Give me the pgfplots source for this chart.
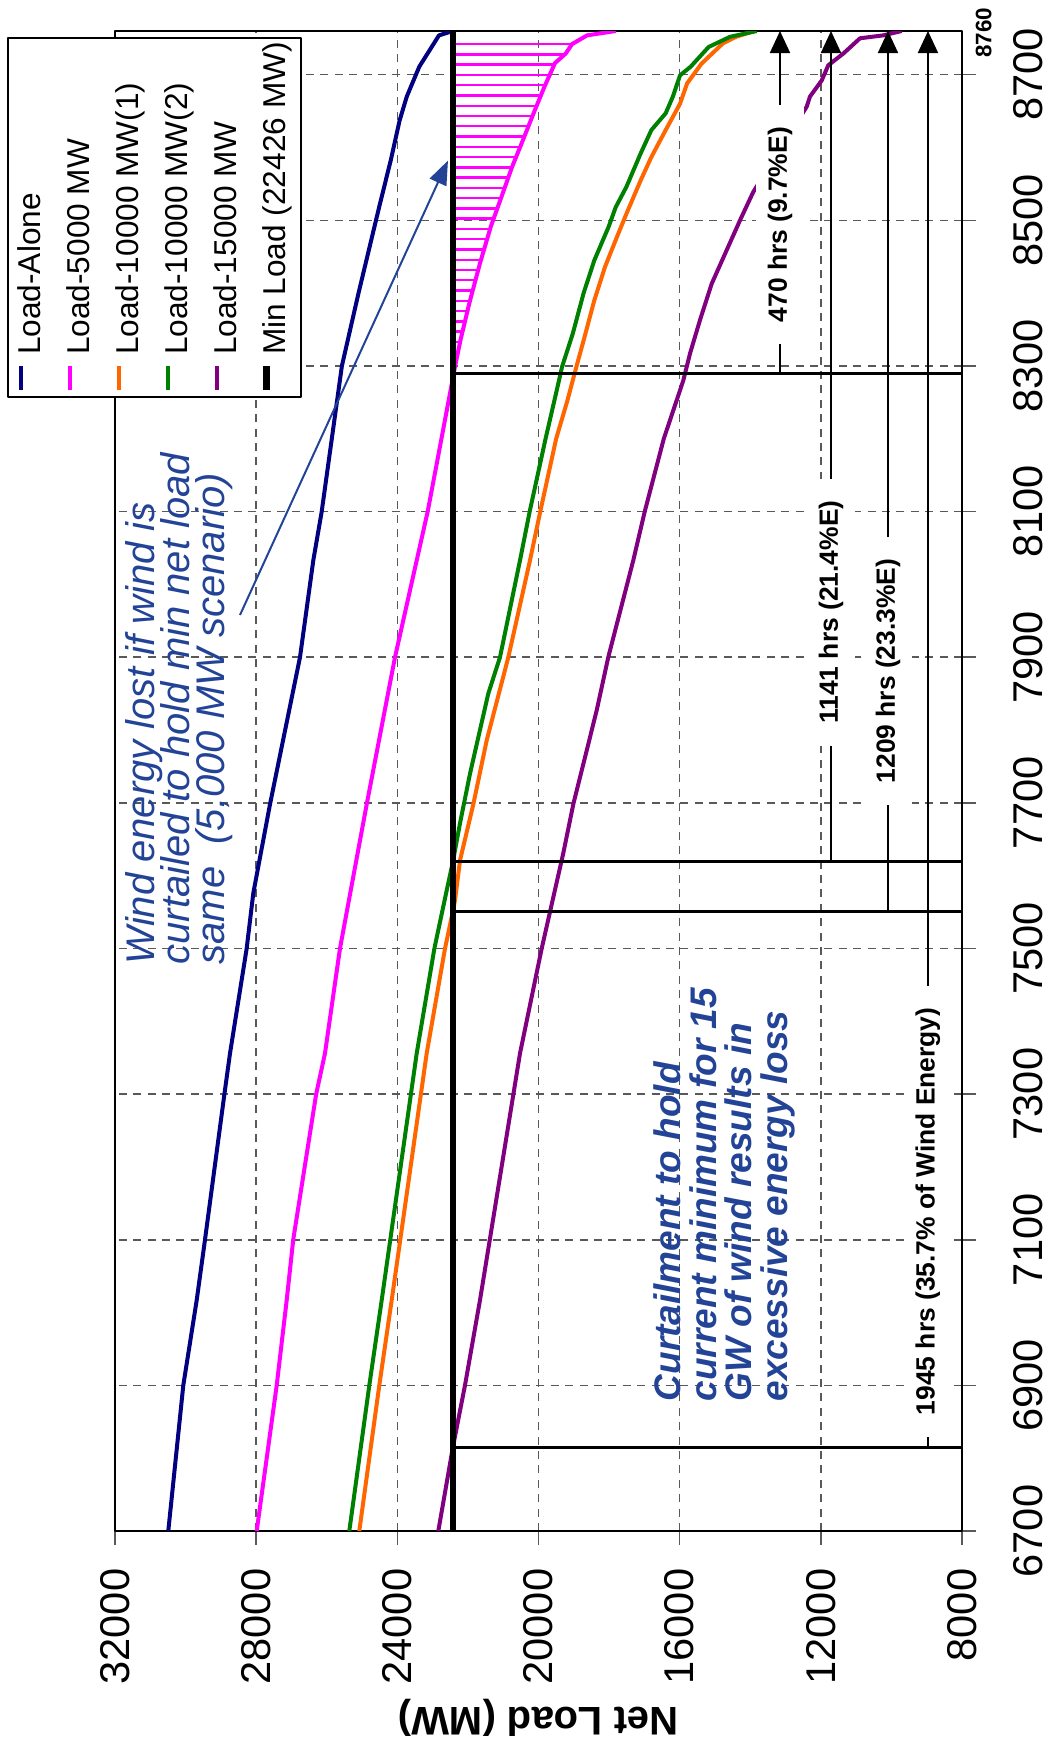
\documentclass[border=0pt]{standalone}
\usepackage{pgfplots}
\pgfplotsset{compat=1.18}
\usepackage{fontspec}
\setmainfont{Liberation Sans}
\usetikzlibrary{arrows.meta}
\definecolor{lnavy}{RGB}{0,0,128}
\definecolor{lmag}{RGB}{255,0,255}
\definecolor{lorange}{RGB}{255,102,0}
\definecolor{lgreen}{RGB}{0,128,0}
\definecolor{lpurple}{RGB}{128,0,128}
\definecolor{btxt}{RGB}{35,68,150}
\begin{document}
\begin{tikzpicture}
\begin{scope}[transform canvas={rotate=90}]
\begin{axis}[
  scale only axis, width=375pt, height=211.75pt,
  xmin=6700, xmax=8760, ymin=8000, ymax=32000,
  xtick={6700,6900,...,8700}, ytick={8000,12000,...,32000},
  tick pos=left, tick align=outside, major tick length=3.5pt,
  tick style={black!65, line width=0.4pt},
  grid=major, grid style={black!65, line width=0.4pt, dash pattern=on 2pt off 1.6pt},
  axis line style={black, line width=0.6pt},
  ticklabel style={font=\fontsize{10.4}{12}\selectfont, inner sep=0pt},
  xticklabel shift=9.25pt, yticklabel shift=5.75pt,
  /pgf/number format/1000 sep={},
  /pgf/number format/assume math mode=true,
  scaled ticks=false,
  ylabel={\textbf{Net Load (MW)}},
  ylabel style={font=\fontsize{10}{12}\selectfont, at={(axis description cs:-0.1113,0.5)}, anchor=south, inner sep=0pt},
  legend style={at={(axis description cs:0.7553,1.1275)}, anchor=north west, draw=black, fill=white,
    inner xsep=1pt, inner ysep=2.25pt, row sep=4.75pt,
    font=\fontsize{7.9}{9}\selectfont,
    nodes={inner sep=0pt, text height=5.9pt, text depth=1.6pt},
    /tikz/every odd column/.style={column sep=2pt}},
  legend cell align=left,
  legend image code/.code={\draw[#1] (0pt,2.6pt) -- (6pt,2.6pt);},
  line join=round,
]
% hatch between Min Load and Load-5000 curve
\addplot[draw=none, mark=none, forget plot, error bars/.cd, y dir=plus, y explicit, error mark=none,
  error bar style={lmag, line width=0.6pt}] table[x=h, y=L, y error=e] {
h L e
8304.9 22340 86
8319.0 22281 145
8333.1 22221 205
8347.2 22152 274
8361.3 22083 343
8375.4 22013 413
8389.5 21941 485
8403.6 21863 563
8417.7 21785 641
8431.8 21707 719
8445.9 21627 799
8460.0 21541 885
8474.1 21456 970
8488.2 21371 1055
8502.3 21270 1156
8516.4 21166 1260
8530.5 21062 1364
8544.6 20959 1467
8558.7 20856 1570
8572.8 20752 1674
8586.9 20635 1791
8601.0 20517 1909
8615.1 20400 2026
8629.2 20283 2143
8643.3 20167 2259
8657.4 20050 2376
8671.5 19932 2494
8685.6 19812 2614
8699.7 19680 2746
8713.8 19549 2877
8727.9 19254 3172
8742.0 19050 3376
};
\addplot[lnavy, line width=1pt] table {
6700 30490
6900 30065
7017 29685
7100 29450
7300 28900
7356 28741
7500 28269
7576 28081
7698 27608
7900 26758
8033 26381
8100 26143
8300 25571
8400 25100
8523 24491
8582 24188
8637 23936
8670 23732
8711 23378
8754 22820
8760 22426
};
\addlegendentry{Load-Alone}
\addplot[lmag, line width=1pt] table {
6700 27985
6900 27418
7017 27135
7100 26950
7300 26300
7356 26050
7500 25625
7698 24868
7900 24066
8033 23451
8100 23140
8200 22750
8299 22366
8335 22213
8386 21961
8441 21658
8491 21354
8532 21051
8573 20751
8610 20442
8647 20139
8683 19836
8716 19532
8729 19229
8742 19050
8754 18623
8760 17812
};
\addlegendentry{Load-5000 MW}
\addplot[lorange, line width=1pt] table {
6700 25078
6900 24511
7017 24160
7100 23917
7300 23332
7356 23168
7500 22649
7551 22426
7566 22366
7621 22224
7698 21847
7786 21467
7900 20855
8033 20241
8100 19950
8200 19500
8253 19178
8299 18926
8335 18722
8390 18419
8436 18116
8473 17812
8509 17509
8555 17104
8587 16801
8624 16396
8660 15991
8688 15789
8715 15384
8743 14775
8752 14400
8760 13880
};
\addlegendentry{Load-10000 MW(1)}
\addplot[lgreen, line width=1pt] table {
6700 25361
6900 24794
7017 24443
7100 24200
7300 23615
7356 23451
7500 22950
7580 22600
7619 22426
7672 22224
7740 21941
7850 21423
7900 21091
8033 20524
8100 20250
8200 19800
8267 19481
8299 19331
8345 19025
8400 18722
8445 18419
8491 18014
8518 17812
8546 17509
8592 17104
8624 16801
8647 16396
8670 16192
8699 15991
8711 15688
8738 15180
8752 14574
8760 13815
};
\addlegendentry{Load-10000 MW(2)}
\addplot[lpurple, line width=1pt] table {
6700 22839
6815 22426
6900 22083
7017 21658
7100 21380
7300 20711
7356 20524
7500 19909
7631 19297
7698 19014
7827 18351
7900 18023
8033 17314
8100 16990
8200 16450
8280 15897
8317 15707
8363 15424
8413 15092
8459 14668
8500 14290
8539 13914
8600 13125
8656 12401
8670 12307
8692 11976
8713 11788
8729 11363
8750 10890
8754 10230
8760 9709
};
\addlegendentry{Load-15000 MW}
\addplot[black, line width=1.6pt] coordinates {(6700,22426) (8760,22426)};
\addlegendentry{Min Load (22426 MW)}
% hour markers
\addplot[black, line width=0.75pt, forget plot] coordinates {(6815,8000) (6815,22426)};
\addplot[black, line width=0.75pt, forget plot] coordinates {(7551,8000) (7551,22426)};
\addplot[black, line width=0.75pt, forget plot] coordinates {(7619,8000) (7619,22426)};
\addplot[black, line width=0.75pt, forget plot] coordinates {(8290,8000) (8290,22426)};
% dimension arrows
\draw[black, line width=0.45pt, -{Triangle[width=5pt,length=5.5pt]}] (axis cs:8290,13157) -- (axis cs:8760,13157);
\draw[black, line width=0.45pt, -{Triangle[width=5pt,length=5.5pt]}] (axis cs:7619,11712) -- (axis cs:8760,11712);
\draw[black, line width=0.45pt, -{Triangle[width=5pt,length=5.5pt]}] (axis cs:7551,10097) -- (axis cs:8760,10097);
\draw[black, line width=0.45pt, -{Triangle[width=5pt,length=5.5pt]}] (axis cs:6815,8964) -- (axis cs:8760,8964);
\node[fill=white, inner xsep=5.5pt, inner ysep=3pt, font=\fontsize{6.6}{8}\selectfont\bfseries] at (axis cs:8494,13157) {470 hrs (9.7\%E)};
\node[fill=white, inner xsep=5.5pt, inner ysep=3pt, font=\fontsize{6.6}{8}\selectfont\bfseries] at (axis cs:7962,11712) {1141 hrs (21.4\%E)};
\node[fill=white, inner xsep=5.5pt, inner ysep=3pt, font=\fontsize{6.6}{8}\selectfont\bfseries] at (axis cs:7881,10097) {1209 hrs (23.3\%E)};
\node[fill=white, inner xsep=5.5pt, inner ysep=3pt, font=\fontsize{6.6}{8}\selectfont\bfseries] at (axis cs:7139,8964) {1945 hrs (35.7\% of Wind Energy)};
% blue annotations
\node[anchor=north west, align=left, inner sep=0pt, text=btxt,
  font={\fontsize{10}{8.75}\selectfont\lineskiplimit=-10pt\itshape}] at (axis cs:7477,31720)
  {Wind energy lost if wind is\\curtailed to hold min net load\\same\ \ (5,000 MW scenario)};
\draw[btxt, line width=0.5pt, -{Triangle[width=4.5pt,length=6pt]}] (axis cs:7958,28458) -- (axis cs:8582,22565);
\node[anchor=north west, align=left, inner sep=0pt, text=btxt,
  font={\fontsize{9.25}{8.875}\selectfont\lineskiplimit=-10pt\bfseries\itshape}] at (axis cs:6877,16747)
  {Curtailment to hold\\current minimum for 15\\GW of wind results in\\excessive energy loss};
\end{axis}
% 8760 label, below the axis end
\node[anchor=north, inner sep=0pt, font=\fontsize{5.6}{7}\selectfont\bfseries] at (374.5pt,-3.25pt) {8760};
\end{scope}
\pgfresetboundingbox
\useasboundingbox (-240.5pt,-56.5pt) rectangle (21.5pt,382.75pt);
\end{tikzpicture}
\end{document}
